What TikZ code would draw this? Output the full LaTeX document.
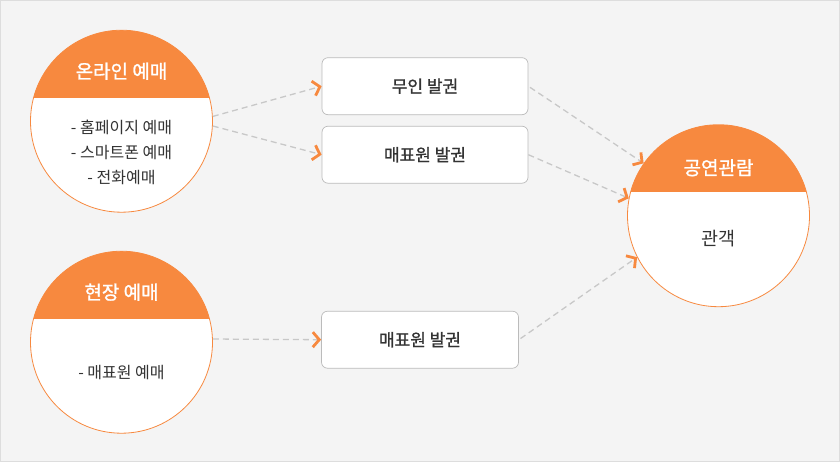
\documentclass[tikz,border=0pt]{standalone}
\usepackage{fontspec}
\setmainfont{Noto Sans CJK KR}
\newfontfamily\headfont{Noto Sans CJK KR}[FakeBold=1.2]
\usetikzlibrary{positioning, arrows.meta, calc}
\definecolor{brand}{HTML}{F7893F}
\definecolor{dashgray}{HTML}{C8C8C8}
\definecolor{boxgray}{HTML}{BBBBBB}
\definecolor{ink}{HTML}{333333}
\definecolor{bg}{HTML}{F4F4F4}
\definecolor{frame}{HTML}{DDDDDD}

\begin{document}
\begin{tikzpicture}[
    x=1pt, y=-1pt,
    stage/.style={circle, draw=brand, line width=0.8pt, fill=white, minimum size=182pt, inner sep=0pt,
        path picture={\fill[brand] (path picture bounding box.north west) rectangle ([yshift=-67.5pt]path picture bounding box.north east);}},
    head/.style={text=white, font=\fontsize{19pt}{22pt}\headfont},
    body/.style={text=ink, align=center, font=\fontsize{16pt}{25pt}\selectfont},
    ticket/.style={rectangle, draw=boxgray, line width=0.7pt, fill=white, rounded corners=6pt, minimum height=57pt, text=ink, font=\fontsize{17pt}{20pt}\headfont},
    flow/.style={dashgray, line width=1.3pt, dash pattern=on 6pt off 4pt, -{Straight Barb[color=brand, length=6.5pt, width=15pt, line width=2.8pt]}}
]
    \fill[bg, draw=frame] (0.5,0) rectangle (839.5,460.5);
    \useasboundingbox (0,0) rectangle (840,461);

    % reservation channels
    \node[stage] (online) at (121.5,121) {};
    \node[head] (onlinehead) at ([yshift=50pt]online.center) {온라인 예매};
    \node[body] (onlinebody) at ([yshift=-31pt]online.center) {- 홈페이지 예매\\- 스마트폰 예매\\- 전화예매};

    \node[stage] (onsite) at (121.5,342) {};
    \node[head] (onsitehead) at ([yshift=50pt]onsite.center) {현장 예매};
    \node[body] (onsitebody) at ([yshift=-30pt]onsite.center) {- 매표원 예매};

    % ticket issue
    \node[ticket, minimum width=206pt] (kiosk) at (425,86) {무인 발권};
    \node[ticket, minimum width=206pt] (counter) at (425,154.5) {매표원 발권};
    \node[ticket, minimum width=197pt] (booth) at (420,339.5) {매표원 발권};

    \node[stage] (watch) at (718.5,215.5) {};
    \node[head] (watchhead) at ([yshift=48pt]watch.center) {공연관람};
    \node[body, font=\fontsize{18.5pt}{22pt}\selectfont] (watchbody) at ([yshift=-22.5pt]watch.center) {관객};

    \draw[flow] (online.3) -- (kiosk.west);
    \draw[flow] (online.-3) -- (counter.west);
    \draw[flow] (onsite.2) -- (booth.west);

    \draw[flow, shorten <=2pt] (kiosk.east) -- (watch.145);
    \draw[flow] (counter.east) -- (watch.169);
    \draw[flow, shorten <=2pt] (booth.east) -- (watch.207);
\end{tikzpicture}
\end{document}
